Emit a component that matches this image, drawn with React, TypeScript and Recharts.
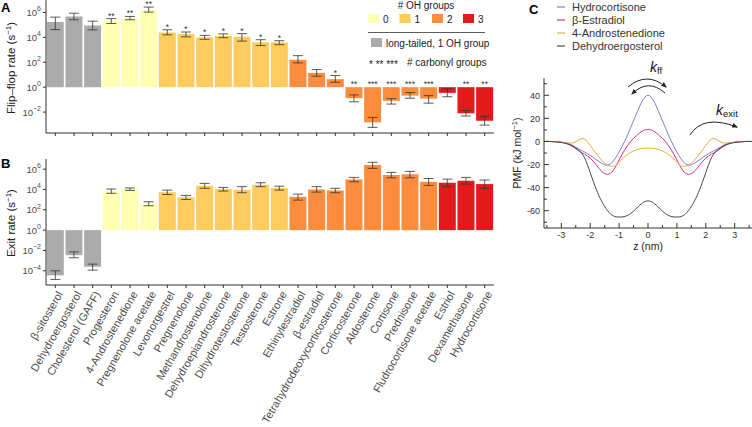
import React from 'react'
import {
  ComposedChart,
  LineChart,
  Bar,
  Line,
  XAxis,
  YAxis,
  Cell,
  ErrorBar,
  Legend,
} from 'recharts'

const FONT = '"Liberation Sans", Arial, Helvetica, sans-serif'
const AXIS = '#333333'
const TICK_TEXT = '#4d4d4d'

// steroids, in plot order
const steroids = [
  'β-sitosterol', 'Dehydroergosterol', 'Cholesterol (GAFF)', 'Progesteron', '4-Androstenedione',
  'Pregnenolone acetate', 'Levonorgestrel', 'Pregnenolone', 'Methandrostenolone', 'Dehydroepiandrosterone',
  'Dihydrotestosterone', 'Testosterone', 'Estrone', 'Ethinylestradiol', 'β-estradiol',
  'Tetrahydrodeoxycorticosterone', 'Corticosterone', 'Aldosterone', 'Cortisone', 'Prednisone',
  'Fludrocortisone acetate', 'Estriol', 'Dexamethasone', 'Hydrocortisone',
]

// # OH groups (-1 = long-tailed, 1 OH group)
const ohGroups = [-1, -1, -1, 0, 0, 0, 1, 1, 1, 1, 1, 1, 1, 2, 2, 2, 2, 2, 2, 2, 2, 3, 3, 3]
const carbonyl = ['', '', '', '**', '**', '**', '*', '*', '*', '*', '*', '*', '*', '', '', '*', '**', '***', '***', '***', '***', '', '**', '**']

// flip-flop rate (s^-1) with error range
const ffRate = [1.7e5, 4.8e5, 9e4, 2e5, 3.5e5, 1.6e6, 2.4e4, 1.9e4, 1.0e4, 1.27e4, 1.1e4, 4e3, 4e3, 160, 14, 4.4, 0.13, 1.5e-3, 0.08, 0.21, 0.12, 0.35, 8e-3, 2e-3]
const ffLow = [4.2e4, 2.6e5, 4e4, 1.3e5, 2.6e5, 1.07e6, 1.6e4, 1.1e4, 7e3, 9.4e3, 5e3, 2.2e3, 2.6e3, 89, 7.6, 2.5, 0.067, 5.9e-4, 0.044, 0.13, 0.052, 0.17, 4.8e-3, 9e-4]
const ffHigh = [4.2e5, 8.7e5, 2e5, 3.2e5, 4.8e5, 2.7e6, 4.1e4, 2.7e4, 1.45e4, 1.9e4, 2e4, 6.5e3, 5.4e3, 340, 26, 8.6, 0.24, 3.7e-3, 0.12, 0.37, 0.21, 0.74, 0.0135, 4.5e-3]

// exit rate (s^-1) with error range
const exitRate = [3.5e-5, 3.4e-3, 2.5e-4, 7e3, 1.1e4, 3.6e2, 5.5e3, 1.7e3, 2.3e4, 1.1e4, 9.3e3, 2.9e4, 1.4e4, 1.9e3, 1e4, 8.1e3, 9.8e4, 2.5e6, 2.6e5, 3.1e5, 5.7e4, 4.6e4, 7.2e4, 3.4e4]
const exitLow = [1.4e-5, 1.9e-3, 1.15e-4, 4.2e3, 8.1e3, 2.5e2, 3.2e3, 1.05e3, 1.3e4, 7e3, 4.8e3, 1.9e4, 8.7e3, 9e2, 5.5e3, 4.8e3, 5.7e4, 1.2e6, 1.4e5, 1.4e5, 2.5e4, 1.9e4, 3.4e4, 1.3e4]
const exitHigh = [1e-4, 7.2e-3, 4.5e-4, 1.1e4, 1.4e4, 6.2e2, 8.7e3, 2.6e3, 4e4, 1.6e4, 1.9e4, 4.6e4, 2.1e4, 3.5e3, 1.9e4, 1.3e4, 1.55e5, 4.7e6, 4.8e5, 6e5, 1.2e5, 1.05e5, 1.55e5, 8.5e4]

const ticksA = [1e-2, 1, 1e2, 1e4, 1e6]
const ticksB = [1e-4, 1e-2, 1, 1e2, 1e4, 1e6]

// PMF profiles (kJ/mol) vs z (nm)
const zVals = [-3.6, -3.4, -3.2, -3.0, -2.8, -2.6, -2.4, -2.2, -2.0, -1.8, -1.6, -1.4, -1.2, -1.0, -0.8, -0.6, -0.4, -0.2, 0,
  0.2, 0.4, 0.6, 0.8, 1.0, 1.2, 1.4, 1.6, 1.8, 2.0, 2.2, 2.4, 2.6, 2.8, 3.0, 3.2, 3.4, 3.6]
const hydrocortisone = [0, 0, -0.2, -0.6, -1.5, -3.5, -6.5, -9, -12, -15.5, -19, -20.5, -17, -9, 0.5, 12, 24, 35, 40,
  35, 24, 12, 0.5, -9, -17, -20.5, -19, -15.5, -12, -9, -6.5, -3.5, -1.5, -0.6, -0.2, 0, 0]
const estradiol = [0, 0, -0.2, -0.8, -2, -4.5, -8, -11, -14.5, -20, -26, -28.5, -25, -16, -7, 0, 5, 9, 10.5,
  9, 5, 0, -7, -16, -25, -28.5, -26, -20, -14.5, -11, -8, -4.5, -2, -0.8, -0.2, 0, 0]
const androstenedione = [0, 0, -0.2, -0.6, -1.2, -1.2, 1.2, 2.2, -3.5, -10, -16.5, -20.5, -21.5, -18, -13, -9.5, -7.2, -6, -5.8,
  -6, -7.2, -9.5, -13, -18, -21.5, -20.5, -16.5, -10, -3.5, 2.2, 1.2, -1.2, -1.2, -0.6, -0.2, 0, 0]
const dehydroergosterol = [0, 0, -0.3, -0.8, -2, -4, -7.5, -14, -27, -41, -52, -60, -64.5, -65.5, -65, -62.5, -58, -53.5, -51.5,
  -53.5, -58, -62.5, -65, -65.5, -64.5, -60, -52, -41, -27, -14, -7.5, -4, -2, -0.8, -0.3, 0, 0]

const zTicks = [-3.5, -3, -2.5, -2, -1.5, -1, -0.5, 0, 0.5, 1, 1.5, 2, 2.5, 3, 3.5]
const pmfTicks = [-70, -60, -50, -40, -30, -20, -10, 0, 10, 20, 30, 40, 50]

const OH_COLOR: Record<number, string> = {
  [-1]: '#ababab',
  0: '#ffffb2',
  1: '#fecc5c',
  2: '#fd8d3c',
  3: '#e31a1c',
}

const pmfSeries = [
  { key: 'hydro', name: 'Hydrocortisone', color: '#7f7fd2' },
  { key: 'estr', name: 'β-Estradiol', color: '#e0307c' },
  { key: 'andro', name: '4-Androstenedione', color: '#e6b035' },
  { key: 'dehydro', name: 'Dehydroergosterol', color: '#4a4a4a' },
]

const rows = steroids.map((name, i) => ({
  name,
  ff: [1, ffRate[i]],
  ffErr: [ffRate[i] - ffLow[i], ffHigh[i] - ffRate[i]],
  ffStar: ffRate[i] > 1 ? ffHigh[i] : 1,
  exit: [1, exitRate[i]],
  exitErr: [exitRate[i] - exitLow[i], exitHigh[i] - exitRate[i]],
}))

const pmfRows = zVals.map((z, i) => ({
  z,
  hydro: hydrocortisone[i],
  estr: estradiol[i],
  andro: androstenedione[i],
  dehydro: dehydroergosterol[i],
}))

function LogTick(props: any) {
  const { x, y, payload } = props
  const exp = Math.round(Math.log10(payload.value))
  return (
    <g>
      <line x1={x - 3} x2={x} y1={y} y2={y} stroke={AXIS} />
      <text x={x - 5} y={y + 3.5} textAnchor="end" fontSize={9.5} fill={TICK_TEXT} fontFamily={FONT}>
        10<tspan dy={-4.5} fontSize={7}>{exp < 0 ? `−${-exp}` : exp}</tspan>
      </text>
    </g>
  )
}

function BandTick(props: any) {
  const { x, y } = props
  return <line x1={x} x2={x} y1={y} y2={y + 3} stroke={AXIS} />
}

function NameTick(props: any) {
  const { x, y, payload } = props
  const ax = x + 8
  const ay = y + 9
  return (
    <g>
      <line x1={x} x2={x} y1={y} y2={y + 3} stroke={AXIS} />
      <text x={ax} y={ay} transform={`rotate(-60 ${ax} ${ay})`} textAnchor="end" fontSize={11} fill={TICK_TEXT} fontFamily={FONT}>
        {payload.value}
      </text>
    </g>
  )
}

function StarDot(props: any) {
  const { cx, cy, index } = props
  return (
    <text key={`s${index}`} x={cx} y={cy} textAnchor="middle" fontSize={8.5} fill="#333" fontFamily={FONT}>
      {carbonyl[index]}
    </text>
  )
}

function ZTick(props: any) {
  const { x, y, payload } = props
  const major = Number.isInteger(payload.value)
  return (
    <g>
      <line x1={x} x2={x} y1={y} y2={y - (major ? 5 : 3)} stroke={AXIS} />
      {major && (
        <text x={x} y={y + 10} textAnchor="middle" fontSize={9} fill="#333" fontFamily={FONT}>
          {payload.value}
        </text>
      )}
    </g>
  )
}

function PmfTick(props: any) {
  const { x, y, payload } = props
  const major = payload.value % 20 === 0
  return (
    <g>
      <line x1={x} x2={x + (major ? 5 : 3)} y1={y} y2={y} stroke={AXIS} />
      {major && (
        <text x={x - 4} y={y + 3.2} textAnchor="end" fontSize={9} fill="#333" fontFamily={FONT}>
          {payload.value}
        </text>
      )}
    </g>
  )
}

function PmfLegend() {
  return (
    <svg width={150} height={54} style={{ display: 'block' }}>
      {pmfSeries.map((s, i) => (
        <g key={s.key}>
          <line x1={2} x2={10} y1={7 + 13 * i} y2={7 + 13 * i} stroke={s.color} strokeWidth={1.2} />
          <text x={17} y={11 + 13 * i} fontSize={11} fill="#333" fontFamily={FONT}>{s.name}</text>
        </g>
      ))}
    </svg>
  )
}

function Overlay() {
  const ohKeys = [0, 1, 2, 3]
  const swX = [368, 399.5, 432, 463]
  return (
    <svg width={752} height={427} style={{ position: 'absolute', left: 0, top: 0, pointerEvents: 'none' }} fontFamily={FONT}>
      <defs>
        <marker id="ah" viewBox="0 0 10 10" refX={8} refY={5} markerWidth={6} markerHeight={6} orient="auto">
          <path d="M0,1 L10,5 L0,9 z" fill="#222" />
        </marker>
      </defs>
      {/* panel letters */}
      <text x={1} y={12} fontSize={13} fontWeight="bold" fill="#000">A</text>
      <text x={1} y={168} fontSize={13} fontWeight="bold" fill="#000">B</text>
      <text x={529} y={14} fontSize={13} fontWeight="bold" fill="#000">C</text>

      {/* axis titles */}
      <text transform="translate(15,68) rotate(-90)" textAnchor="middle" fontSize={11.5} fill="#222">
        Flip–flop rate (s<tspan dy={-4} fontSize={8}>−1</tspan><tspan dy={4}>)</tspan>
      </text>
      <text transform="translate(15,223) rotate(-90)" textAnchor="middle" fontSize={11.5} fill="#222">
        Exit rate (s<tspan dy={-4} fontSize={8}>−1</tspan><tspan dy={4}>)</tspan>
      </text>
      <text transform="translate(521,153) rotate(-90)" textAnchor="middle" fontSize={10.5} fill="#222">
        PMF (kJ mol<tspan dy={-4} fontSize={7.5}>−1</tspan><tspan dy={4}>)</tspan>
      </text>
      <text x={648} y={250} textAnchor="middle" fontSize={10.5} fill="#222">z (nm)</text>

      {/* legend A */}
      <text x={426} y={9} textAnchor="middle" fontSize={10} fill="#222"># OH groups</text>
      {ohKeys.map((k, i) => (
        <g key={k}>
          <rect x={swX[i]} y={14} width={11} height={9} fill={OH_COLOR[k]} />
          <text x={swX[i] + 15} y={22.5} fontSize={10} fill="#222">{k}</text>
        </g>
      ))}
      <line x1={368} x2={485} y1={32.5} y2={32.5} stroke="#333" strokeWidth={0.8} />
      <rect x={371} y={38} width={11} height={9} fill={OH_COLOR[-1]} />
      <text x={386} y={46.5} fontSize={10} fill="#222">long-tailed, 1 OH group</text>
      <text x={369} y={68} fontSize={10} fill="#222">*  **  ***</text>
      <text x={407} y={65.5} fontSize={10} fill="#222"># carbonyl groups</text>

      {/* arrows and rate labels in C */}
      <path d="M628,87 Q647,71 666,87" fill="none" stroke="#222" strokeWidth={1} markerEnd="url(#ah)" />
      <path d="M665,93 Q648,78 632,94" fill="none" stroke="#222" strokeWidth={1} markerEnd="url(#ah)" />
      <path d="M690,135 Q703,114 737,127" fill="none" stroke="#222" strokeWidth={1} markerEnd="url(#ah)" />
      <text x={650} y={72} fontSize={14} fill="#111" fontStyle="italic">
        k<tspan dy={2} fontSize={9.5} fontStyle="normal">ff</tspan>
      </text>
      <text x={716} y={115} fontSize={14} fill="#111" fontStyle="italic">
        k<tspan dy={2} fontSize={9.5} fontStyle="normal">exit</tspan>
      </text>
    </svg>
  )
}

export default function App() {
  return (
    <div style={{ position: 'absolute', left: 0, top: 0, width: 752, height: 427, background: '#fff', fontFamily: FONT, overflow: 'hidden' }}>
      <div style={{ position: 'absolute', left: 0, top: 0 }}>
        <ComposedChart width={500} height={140} data={rows} margin={{ top: 0, right: 6, bottom: 0, left: 0 }} barCategoryGap={0.8}>
          <XAxis dataKey="name" height={7} interval={0} tickSize={0} tickMargin={0} tickLine={false} tick={<BandTick />} axisLine={{ stroke: AXIS }} />
          <YAxis scale="log" type="number" domain={[Math.pow(10, -3.68), 1e7]} allowDataOverflow ticks={ticksA} interval={0} width={46}
            tickSize={0} tickMargin={0} tickLine={false} tick={<LogTick />} axisLine={{ stroke: AXIS }} />
          <Bar dataKey="ff" isAnimationActive={false}>
            {rows.map((r, i) => <Cell key={r.name} fill={OH_COLOR[ohGroups[i]]} />)}
            <ErrorBar dataKey="ffErr" width={5} stroke="#333" strokeWidth={0.8} />
          </Bar>
          <Line dataKey="ffStar" stroke="none" dot={<StarDot />} activeDot={false} isAnimationActive={false} />
        </ComposedChart>
      </div>

      <div style={{ position: 'absolute', left: 0, top: 140 }}>
        <ComposedChart width={500} height={287} data={rows} margin={{ top: 19, right: 6, bottom: 0, left: 0 }} barCategoryGap={0.8}>
          <XAxis dataKey="name" height={142} interval={0} tickSize={0} tickMargin={0} tickLine={false} tick={<NameTick />} axisLine={{ stroke: AXIS }} />
          <YAxis scale="log" type="number" domain={[Math.pow(10, -5.4), 1e7]} allowDataOverflow ticks={ticksB} interval={0} width={46}
            tickSize={0} tickMargin={0} tickLine={false} tick={<LogTick />} axisLine={{ stroke: AXIS }} />
          <Bar dataKey="exit" isAnimationActive={false}>
            {rows.map((r, i) => <Cell key={r.name} fill={OH_COLOR[ohGroups[i]]} />)}
            <ErrorBar dataKey="exitErr" width={5} stroke="#333" strokeWidth={0.8} />
          </Bar>
        </ComposedChart>
      </div>

      <div style={{ position: 'absolute', left: 500, top: 0 }}>
        <LineChart width={252} height={260} data={pmfRows} margin={{ top: 78, right: 0, bottom: 0, left: 0 }}>
          <XAxis dataKey="z" type="number" domain={[-3.6, 3.6]} allowDataOverflow ticks={zTicks} interval={0} height={32}
            tickSize={0} tickMargin={0} tickLine={false} tick={<ZTick />} axisLine={{ stroke: AXIS }} />
          <YAxis type="number" domain={[-75, 55]} allowDataOverflow ticks={pmfTicks} interval={0} width={44}
            tickSize={0} tickMargin={0} tickLine={false} tick={<PmfTick />} axisLine={{ stroke: AXIS }} />
          {pmfSeries.map((s) => (
            <Line key={s.key} dataKey={s.key} name={s.name} type="natural" stroke={s.color} strokeWidth={1} dot={false} isAnimationActive={false} />
          ))}
          <Legend layout="vertical" align="center" verticalAlign="middle" wrapperStyle={{ left: 55, top: 0, width: 150 }} content={() => <PmfLegend />} />
        </LineChart>
      </div>

      <Overlay />
    </div>
  )
}
